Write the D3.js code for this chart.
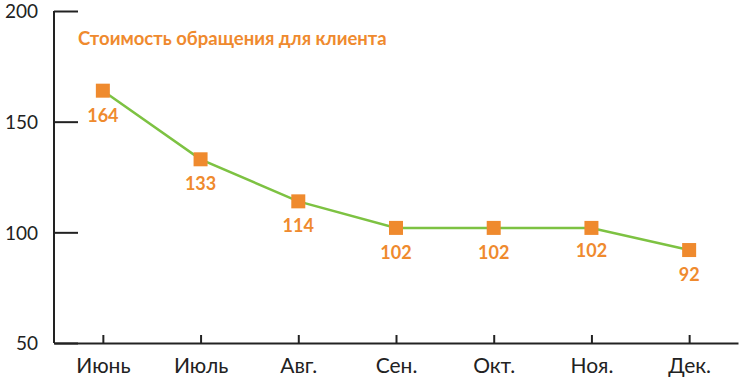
<!DOCTYPE html>
<html lang="ru">
  <head>
    <meta charset="utf-8">
    <script src="https://d3js.org/d3.v7.min.js"></script>
    <title>Стоимость обращения</title>
    <style>
      body { margin: 0; background: #fff; }
      text { font-family: "Lato", "Open Sans", sans-serif; }
    </style>
  </head>
  <body>
    <div id="chart"></div>
    <script>
      var months = ["Июнь", "Июль", "Авг.", "Сен.", "Окт.", "Ноя.", "Дек."];
      var cost = [164, 133, 114, 102, 102, 102, 92];
      var yTicks = [50, 100, 150, 200];
      var title = "Стоимость обращения для клиента";

      var orange = "#ef8a2e", green = "#7dc242";

      var svg = d3.select("#chart").append("svg")
          .attr("width", 748).attr("height", 383);

      var x = d3.scalePoint().domain(months).range([54, 738]).padding(0.5);
      var y = d3.scaleLinear().domain([50, 200]).range([343, 11]);

      // y axis, ticks point inward
      var yAxis = svg.append("g")
          .attr("transform", "translate(54,0)")
          .call(d3.axisRight(y).tickValues(yTicks).tickSize(24).tickSizeOuter(0));
      yAxis.select(".domain").remove();
      yAxis.append("line").attr("x1", 0).attr("x2", 0).attr("y1", 11).attr("y2", 343)
          .attr("stroke", "#222").attr("stroke-width", 2);
      yAxis.selectAll(".tick line").attr("stroke", "#222").attr("stroke-width", 2);
      yAxis.selectAll(".tick text")
          .attr("x", -16).attr("dy", "0.36em").attr("text-anchor", "end")
          .style("font-size", "19px").attr("fill", "#222");

      // x axis with short ticks above the line
      var xAxis = svg.append("g")
          .attr("transform", "translate(0,343)")
          .call(d3.axisBottom(x).tickSize(-8).tickSizeOuter(0));
      xAxis.select(".domain").attr("stroke", "#222").attr("stroke-width", 2);
      xAxis.selectAll(".tick line").attr("stroke", "#222").attr("stroke-width", 2);
      xAxis.selectAll(".tick text")
          .attr("y", 15).attr("dy", "0.71em")
          .style("font-size", "21px").attr("fill", "#222");

      svg.append("text")
          .attr("x", 78).attr("y", 45)
          .style("font-size", "18.5px").style("font-weight", "bold")
          .attr("fill", orange)
          .text(title);

      var line = d3.line()
          .x(function (d, i) { return x(months[i]); })
          .y(function (d) { return y(d); });

      svg.append("path").datum(cost)
          .attr("d", line)
          .attr("fill", "none").attr("stroke", green).attr("stroke-width", 2.5);

      svg.selectAll("rect.pt").data(cost).enter().append("rect")
          .attr("class", "pt")
          .attr("x", function (d, i) { return x(months[i]) - 7; })
          .attr("y", function (d) { return y(d) - 7; })
          .attr("width", 14).attr("height", 14)
          .attr("fill", orange);

      svg.selectAll("text.lbl").data(cost).enter().append("text")
          .attr("class", "lbl")
          .attr("x", function (d, i) { return x(months[i]); })
          .attr("y", function (d, i) { return y(d) + (i == 5 ? 29 : 31); })
          .attr("text-anchor", "middle")
          .style("font-size", "18px").style("font-weight", "bold")
          .attr("fill", orange)
          .text(function (d) { return d; });
    </script>
  </body>
</html>
